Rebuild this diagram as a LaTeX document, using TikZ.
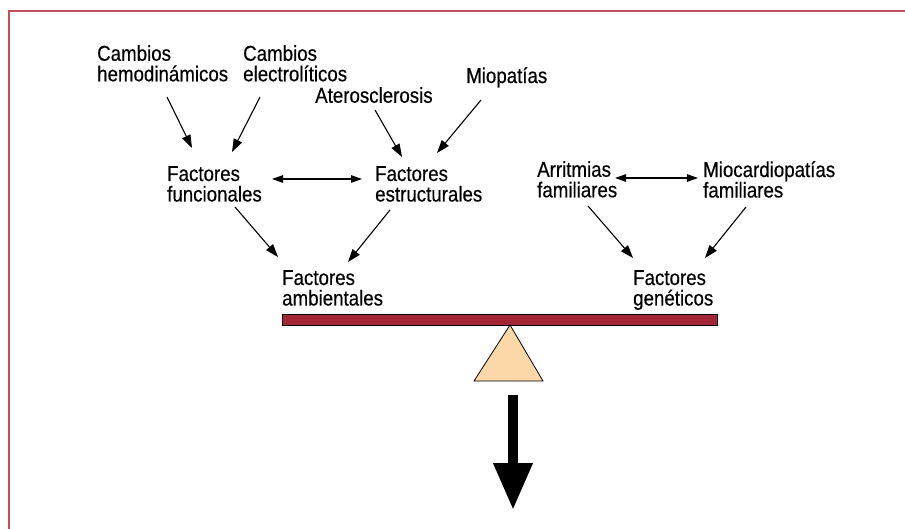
\documentclass[tikz,border=0pt]{standalone}
\usepackage{fontspec}
\setmainfont{Liberation Sans}[FakeStretch=0.87,FakeBold=0.4]
\usetikzlibrary{positioning,calc,arrows.meta}
\definecolor{framered}{RGB}{192,80,92}
\definecolor{beamred}{RGB}{163,38,52}
\definecolor{pivotpeach}{RGB}{252,216,168}

\begin{document}
\begin{tikzpicture}[x=1pt,y=-1pt,
    lbl/.style={anchor=north west, inner sep=0pt, align=left, font=\fontsize{21.5}{20.5}\selectfont},
    thinarrow/.style={line width=1.1pt, -{Triangle[length=13pt,width=9pt]}},
    botharrow/.style={line width=1.1pt, {Triangle[length=11pt,width=7.5pt]}-{Triangle[length=11pt,width=7.5pt]}}]
\useasboundingbox (0,0) rectangle (905,529);
% Frame
\draw[framered, line width=2pt] (8.5,529) -- (8.5,11) -- (905,11);

% Labels
\node[lbl] (hemo) at (97,45) {Cambios\\hemodinámicos};
\node[lbl] (electro) at (243,45) {Cambios\\electrolíticos};
\node[lbl] (athero) at (315,87) {Aterosclerosis};
\node[lbl] (miop) at (466,67) {Miopatías};
\node[lbl] (func) at (167,166) {Factores\\funcionales};
\node[lbl] (estruct) at (375,166) {Factores\\estructurales};
\node[lbl] (arrit) at (537,161) {Arritmias\\familiares};
\node[lbl] (miocard) at (703,161) {Miocardiopatías\\familiares};
\node[lbl] (ambient) at (282,270) {Factores\\ambientales};
\node[lbl] (genet) at (633,270) {Factores\\genéticos};

% Single arrows
\foreach \from/\fx/\fy/\to/\tx/\ty in {
    hemo/70/52/func/25/-18,
    electro/17/52/func/65/-14,
    athero/60/23/estruct/27/-9,
    miop/15/33/estruct/62/-13,
    func/68/41/ambient/-4/-13,
    estruct/15/44/ambient/66/-8,
    arrit/51/45/genet/0/-12,
    miocard/43/46/genet/72/-12
} {
    \draw[thinarrow] ($(\from.north west)+(\fx,\fy)$) -- ($(\to.north west)+(\tx,\ty)$);
}

% Double arrows
\draw[botharrow] ($(func.north west)+(105,13)$) -- ($(estruct.north west)+(-13,13)$);
\draw[botharrow] ($(arrit.north west)+(78,17)$) -- ($(miocard.north west)+(-5,17)$);

% Balance
\draw[fill=beamred, line width=0.8pt] (282,314) rectangle (717,325);
\draw[fill=pivotpeach, line width=0.8pt] (510,325) -- (543,381) -- (474,381) -- cycle;

% Result arrow
\draw[line width=10pt, -{Triangle[length=47pt,width=37pt]}] (513,395) -- (513,510);
\end{tikzpicture}
\end{document}
